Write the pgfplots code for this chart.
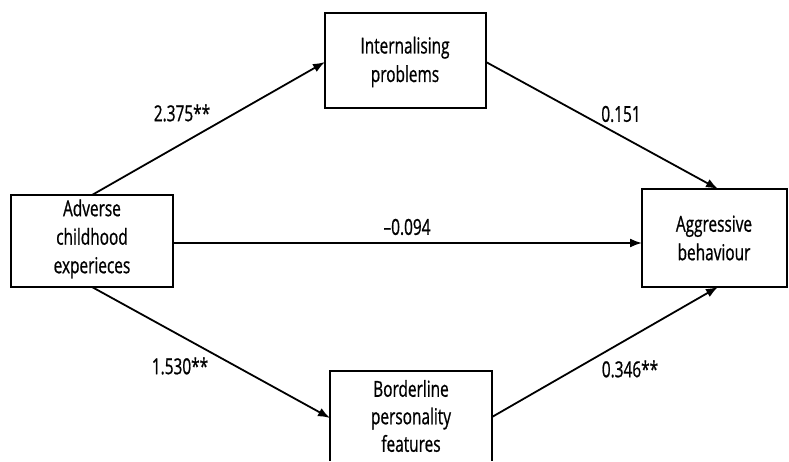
\documentclass[border=0pt]{standalone}
\usepackage{fontspec}
\setmainfont{Open Sans}[FakeStretch=0.70,FakeBold=0.8]
\usepackage{pgfplots}
\pgfplotsset{compat=1.18}
\usetikzlibrary{arrows.meta}

\begin{document}
\begin{tikzpicture}[
    box/.style={draw=none, align=center, font=\fontsize{22}{28.5}\selectfont},
    lab/.style={font=\fontsize{22}{25}\selectfont}
]
\begin{axis}[
    width=789pt, height=461pt, scale only axis,
    xmin=0, xmax=789, ymin=0, ymax=461,
    y dir=reverse,
    hide axis, clip=false
]
% keep the whole canvas in the bounding box
\path (axis cs:0,0) rectangle (axis cs:789,461);

% boxes
\draw[line width=1.8pt] (axis cs:11,195) rectangle (axis cs:173,287);
\draw[line width=1.8pt] (axis cs:325,13) rectangle (axis cs:486,108);
\draw[line width=1.8pt] (axis cs:642,189) rectangle (axis cs:787,287);
\draw[line width=1.8pt] (axis cs:330,461) -- (axis cs:330,371) -- (axis cs:492,371) -- (axis cs:492,461);

% paths
\addplot[black, line width=1.8pt, -{Latex[length=12pt,width=9pt]}] coordinates {(92,195) (325,62)};
\addplot[black, line width=1.8pt, -{Latex[length=12pt,width=9pt]}] coordinates {(486,62) (718,189)};
\addplot[black, line width=1.8pt, -{Latex[length=12pt,width=9pt]}] coordinates {(173,243) (642,243)};
\addplot[black, line width=1.8pt, -{Latex[length=12pt,width=9pt]}] coordinates {(92,287) (330,418)};
\addplot[black, line width=1.8pt, -{Latex[length=12pt,width=9pt]}] coordinates {(492,417) (718,287)};

% box texts
\node[box] at (axis cs:92,239) {Adverse\\childhood\\experieces};
\node[box] at (axis cs:405,62) {Internalising\\problems};
\node[box, font=\fontsize{22}{27.5}\selectfont] at (axis cs:411,416) {Borderline\\personality\\features};
\node[box] at (axis cs:714,238) {Aggressive\\behaviour};

% coefficients
\node[lab] at (axis cs:182,113) {2.375**};
\node[lab] at (axis cs:621,114) {0.151};
\node[lab] at (axis cs:407,227) {–0.094};
\node[lab] at (axis cs:180,366) {1.530**};
\node[lab] at (axis cs:630,369) {0.346**};
\end{axis}
\end{tikzpicture}
\end{document}
